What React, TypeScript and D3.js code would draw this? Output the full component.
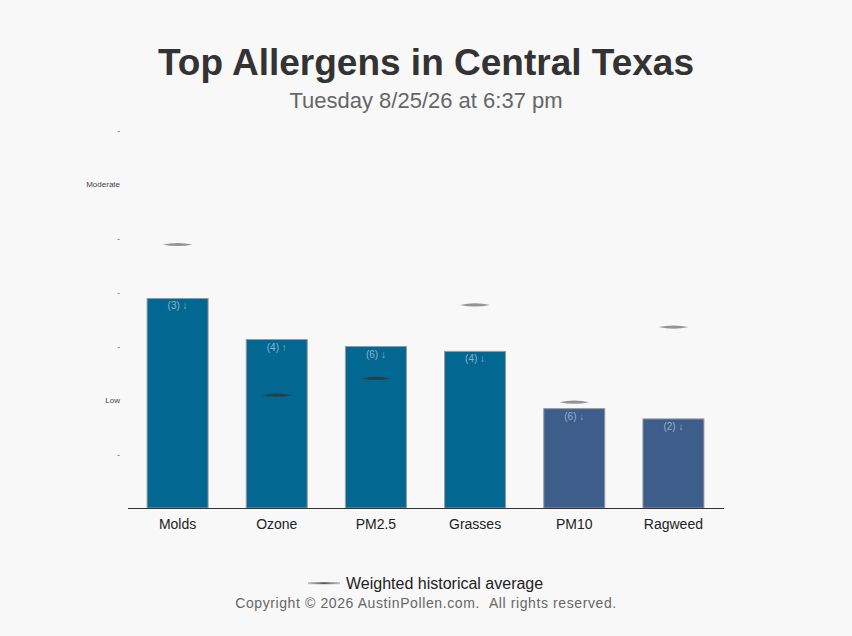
import React from "react";
import * as d3 from "d3";

const allergens = ["Molds", "Ozone", "PM2.5", "Grasses", "PM10", "Ragweed"];
const levels = [3.88, 3.12, 2.99, 2.9, 1.84, 1.65];
const averages = [4.88, 2.09, 2.4, 3.76, 1.96, 3.35];
const counts = ["(3) ↓", "(4) ↑", "(6) ↓", "(4) ↓", "(6) ↓", "(2) ↓"];
const kinds = ["pollen", "pollen", "pollen", "pollen", "other", "other"];
const tickValues = [1, 2, 3, 4, 5, 6, 7];
const tickLabels = ["-", "Low", "-", "-", "-", "Moderate", "-"];

const W = 852;
const H = 636;
const margin = { top: 130, right: 129, bottom: 128, left: 128 };

const lens = (cx: number, y: number, half = 15, thick = 1.6) =>
  `M${cx - half},${y} Q${cx},${y - thick * 2} ${cx + half},${y} Q${cx},${y + thick * 2} ${cx - half},${y} Z`;

const App: React.FC = () => {
  const x = d3
    .scaleBand<string>()
    .domain(allergens)
    .range([margin.left, W - margin.right])
    .paddingInner(0.375)
    .paddingOuter(0.1875);

  const y = d3
    .scaleLinear()
    .domain([0, 7])
    .range([H - margin.bottom, margin.top]);

  const fill = d3.scaleOrdinal<string, string>().domain(["pollen", "other"]).range(["#026891", "#3d5d8b"]);

  return (
    <div style={{ position: "fixed", left: 0, top: 0 }}>
      <svg width={W} height={H} style={{ display: "block", fontFamily: "'Liberation Sans', Arial, sans-serif" }}>
        <defs>
          <linearGradient id="legendLine" x1="0" x2="1" y1="0" y2="0">
            <stop offset="0" stopColor="#888" stopOpacity={0.5} />
            <stop offset="0.5" stopColor="#555" stopOpacity={1} />
            <stop offset="1" stopColor="#888" stopOpacity={0.5} />
          </linearGradient>
        </defs>
        <rect width={W} height={H} fill="#f8f8f8" />

        <text x={W / 2} y={75} textAnchor="middle" fontSize={37} fontWeight="bold" fill="#333">
          Top Allergens in Central Texas
        </text>
        <text x={W / 2} y={108} textAnchor="middle" fontSize={22} fill="#666">
          Tuesday 8/25/26 at 6:37 pm
        </text>

        {/* y axis labels */}
        {tickValues.map((t, i) => (
          <text key={t} x={120} y={y(t)} dy="0.32em" textAnchor="end" fontSize={8} fill="#444">
            {tickLabels[i]}
          </text>
        ))}

        {/* bars */}
        {allergens.map((a, i) => {
          const bx = x(a)!;
          const by = y(levels[i]);
          return (
            <g key={a}>
              <rect
                x={bx + 0.5}
                y={by}
                width={x.bandwidth() - 1}
                height={y(0) - by}
                fill={fill(kinds[i])}
                stroke="#999"
                strokeWidth={1}
              />
              <text x={bx + x.bandwidth() / 2} y={by + 11} textAnchor="middle" fontSize={10} fill="#8db3cc">
                {counts[i]}
              </text>
            </g>
          );
        })}

        {/* historical averages */}
        {allergens.map((a, i) => {
          const cx = x(a)! + x.bandwidth() / 2;
          const inside = averages[i] < levels[i];
          return (
            <path
              key={a}
              d={lens(cx, y(averages[i]))}
              fill={inside ? "#333" : "#888"}
              fillOpacity={inside ? 0.75 : 0.9}
            />
          );
        })}

        {/* baseline */}
        <line x1={margin.left} x2={W - margin.right + 1} y1={y(0) + 0.5} y2={y(0) + 0.5} stroke="#333" strokeWidth={1} />

        {allergens.map((a) => (
          <text key={a} x={x(a)! + x.bandwidth() / 2} y={529} textAnchor="middle" fontSize={14} fill="#222">
            {a}
          </text>
        ))}

        {/* legend */}
        <rect x={308} y={582.2} width={32} height={2} fill="url(#legendLine)" />
        <text x={346} y={589} fontSize={16} fill="#222">
          Weighted historical average
        </text>
        <text x={W / 2} y={608} textAnchor="middle" fontSize={14} fill="#666" letterSpacing={0.6}>
          Copyright © 2026 AustinPollen.com.{"\u00a0\u00a0"}All rights reserved.
        </text>
      </svg>
    </div>
  );
};

export default App;
